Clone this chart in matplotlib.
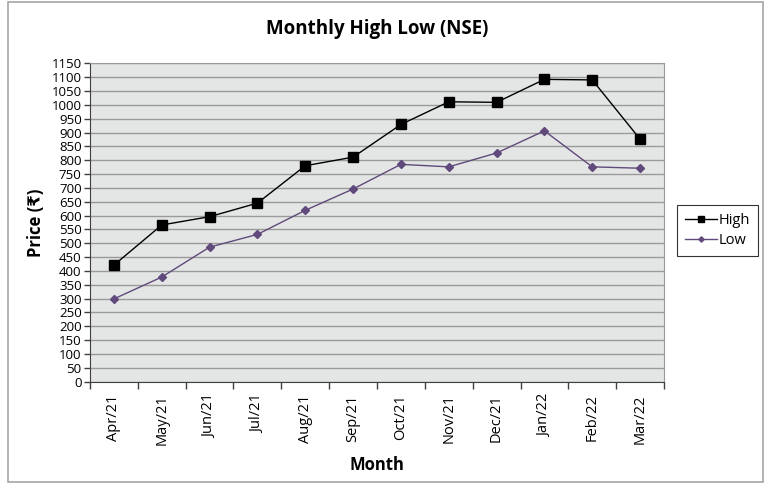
import numpy as np
import matplotlib.pyplot as plt
from matplotlib.patches import Rectangle

months = ["Apr/21", "May/21", "Jun/21", "Jul/21", "Aug/21", "Sep/21",
          "Oct/21", "Nov/21", "Dec/21", "Jan/22", "Feb/22", "Mar/22"]
high = [421, 566, 596, 645, 780, 811, 929, 1011, 1009, 1092, 1090, 876]
low = [299, 378, 486, 532, 619, 696, 785, 776, 826, 906, 776, 771]

plt.rcParams['font.family'] = ['Open Sans', 'DejaVu Sans']

fig = plt.figure(figsize=(7.66, 4.84), dpi=100)
fig.patches.append(Rectangle((8/766, 2/484), 755/766, 480/484, transform=fig.transFigure,
                             fill=False, edgecolor='#a6a6a6', linewidth=1.2))

ax = fig.add_axes([90/766, 1 - 381.7/484, 574/766, 318.4/484])
ax.set_facecolor('#e4e5e5')

x = np.arange(len(months))
ax.plot(x, high, color='black', lw=1, marker='s', ms=7, label='High')
ax.plot(x, low, color='#604a7b', lw=1, marker='D', ms=4.5, label='Low')

ax.set_xlim(-0.5, len(months) - 0.5)
ax.set_ylim(0, 1150)
ax.set_yticks(np.arange(0, 1151, 50))
ax.yaxis.grid(True, color='#9a9a9a', lw=1)
ax.set_axisbelow(True)

ax.set_xticks(x)
ax.set_xticklabels(months, rotation=90, fontsize=10.5)
ax.set_xticks(np.arange(-0.5, len(months)), minor=True)
ax.tick_params(axis='x', which='major', length=0, pad=9)
ax.tick_params(axis='x', which='minor', length=5, width=1, color='#404040')
ax.tick_params(axis='y', labelsize=9.5, length=4, width=1, color='#404040', pad=2)

for s in ['top', 'right']:
    ax.spines[s].set_color('#9a9a9a')
for s in ['left', 'bottom']:
    ax.spines[s].set_color('#404040')

ax.set_title("Monthly High Low (NSE)", fontsize=13.5, fontweight='bold', pad=21)
ax.set_xlabel("Month", fontsize=12, fontweight='bold', labelpad=8)
ax.set_ylabel("Price (\u20b9)", fontsize=12, fontweight='bold', labelpad=5)

leg = ax.legend(loc='center left', bbox_to_anchor=(1.01, 0.475), frameon=True, fancybox=False,
                edgecolor='black', fontsize=10.5, handlelength=2.2, handletextpad=0.1,
                borderpad=0.55, labelspacing=0.35, markerscale=0.6)
leg.get_frame().set_linewidth(0.8)

fig.savefig("out.png", dpi=100)
